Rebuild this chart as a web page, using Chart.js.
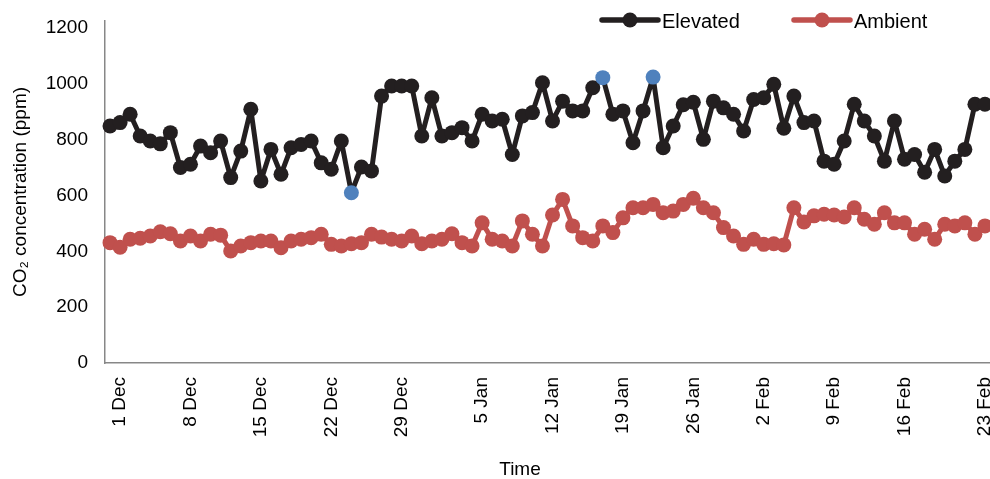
<!DOCTYPE html>
<html>
<head>
<meta charset="utf-8">
<script src="https://cdn.jsdelivr.net/npm/chart.js@4.4.1/dist/chart.umd.min.js"></script>
<style>
    html, body { margin: 0; padding: 0; background: #fff; }
    #wrap { width: 990px; height: 479px; }
</style>
</head>
<body>
<div id="wrap"><canvas id="chartCO2" width="990" height="479"></canvas></div>
<script>
// Etiquetas de fecha y el punto (índice) donde aparecen en el eje X
const dateLabels = ['1 Dec', '8 Dec', '15 Dec', '22 Dec', '29 Dec', '5 Jan', '12 Jan',
                    '19 Jan', '26 Jan', '2 Feb', '9 Feb', '16 Feb', '23 Feb'];
const dateIndex = [1, 8, 15, 22, 29, 37, 44, 51, 58, 65, 72, 79, 87];

// Concentración de CO2 (ppm)
const elevated = [849, 861, 891, 813, 795, 785, 825, 700, 712, 777, 753, 795, 664, 759, 909,
                  652, 765, 676, 771, 783, 795, 717, 694, 795, 610, 702, 688, 956, 992, 992,
                  992, 813, 950, 813, 825, 843, 795, 891, 867, 873, 747, 885, 897, 1004, 867,
                  938, 903, 903, 986, 1022, 891, 903, 789, 903, 1024, 771, 849, 925, 934, 801,
                  938, 914, 891, 831, 944, 950, 998, 841, 956, 861, 867, 723, 712, 795, 927,
                  867, 813, 723, 867, 730, 747, 683, 765, 670, 723, 765, 927, 927];
const ambient = [431, 415, 443, 447, 455, 470, 463, 437, 455, 437, 461, 458, 401, 419, 431,
                 437, 437, 413, 437, 443, 449, 461, 425, 419, 427, 431, 461, 451, 443, 437,
                 455, 427, 437, 443, 463, 431, 419, 502, 443, 437, 419, 509, 461, 419, 530,
                 586, 491, 449, 437, 491, 467, 520, 556, 556, 568, 538, 544, 568, 590, 556,
                 538, 485, 455, 425, 443, 425, 427, 423, 556, 505, 527, 533, 530, 523, 556,
                 515, 497, 538, 502, 502, 461, 479, 443, 497, 491, 502, 461, 491];

// Puntos resaltados en azul dentro de la serie "Elevated"
const highlightIndex = [24, 49, 54];

const yTicks = [0, 200, 400, 600, 800, 1000, 1200];

const COLOR_ELEV = '#231f20';
const COLOR_AMB = '#c0504d';
const COLOR_HL = '#4f81bd';
const FONT = '"Liberation Sans", Arial, "DejaVu Sans", sans-serif';

const categories = elevated.map((_, i) => {
    const k = dateIndex.indexOf(i);
    return k >= 0 ? dateLabels[k] : '';
});
const elevColors = elevated.map((_, i) => highlightIndex.includes(i) ? COLOR_HL : COLOR_ELEV);

// Leyenda y título "Time" dibujados a mano
const extrasPlugin = {
    id: 'extras',
    afterDraw(chart) {
        const ctx = chart.ctx;
        const items = [
            { x: 602, ds: chart.data.datasets[0] },
            { x: 794, ds: chart.data.datasets[1] }
        ];
        ctx.save();
        items.forEach(it => {
            const y = 20;
            ctx.strokeStyle = it.ds.borderColor;
            ctx.lineWidth = 5.5;
            ctx.lineCap = 'round';
            ctx.beginPath();
            ctx.moveTo(it.x, y);
            ctx.lineTo(it.x + 56, y);
            ctx.stroke();
            ctx.fillStyle = it.ds.borderColor;
            ctx.beginPath();
            ctx.arc(it.x + 28, y, 7.5, 0, Math.PI * 2);
            ctx.fill();
            ctx.fillStyle = '#000';
            ctx.font = '20px ' + FONT;
            ctx.textBaseline = 'middle';
            ctx.textAlign = 'left';
            ctx.fillText(it.ds.label, it.x + 60, y + 2);
        });
        ctx.font = '19px ' + FONT;
        ctx.textAlign = 'center';
        ctx.textBaseline = 'middle';
        ctx.fillStyle = '#000';
        ctx.fillText('Time', 520, 470);
        ctx.restore();
    }
};

const ctxCO2 = document.getElementById('chartCO2').getContext('2d');
const chartCO2 = new Chart(ctxCO2, {
    type: 'line',
    data: {
        labels: categories,
        datasets: [
            {
                label: 'Elevated',
                data: elevated,
                borderColor: COLOR_ELEV,
                backgroundColor: COLOR_ELEV,
                borderWidth: 5,
                borderJoinStyle: 'round',
                pointRadius: 7.5,
                pointBackgroundColor: elevColors,
                pointBorderColor: elevColors,
                pointBorderWidth: 0,
                tension: 0
            },
            {
                label: 'Ambient',
                data: ambient,
                borderColor: COLOR_AMB,
                backgroundColor: COLOR_AMB,
                borderWidth: 5,
                borderJoinStyle: 'round',
                pointRadius: 7.5,
                pointBackgroundColor: COLOR_AMB,
                pointBorderColor: COLOR_AMB,
                pointBorderWidth: 0,
                tension: 0
            }
        ]
    },
    options: {
        responsive: false,
        animation: false,
        devicePixelRatio: 1,
        layout: { autoPadding: false, padding: { top: 21, left: 0, right: 0, bottom: 0 } },
        plugins: {
            legend: { display: false },
            tooltip: { enabled: false }
        },
        scales: {
            x: {
                type: 'category',
                offset: true,
                grid: { display: false, drawTicks: false, offset: false },
                border: { display: true, color: '#878787', width: 1.5 },
                ticks: {
                    autoSkip: false,
                    minRotation: 90,
                    maxRotation: 90,
                    padding: 14,
                    color: '#000',
                    font: { family: FONT, size: 19 }
                },
                afterFit(scale) {
                    scale.height = 116;
                    scale.paddingLeft = 0;
                    scale.paddingRight = 0;
                }
            },
            y: {
                min: 0,
                max: 1225,
                grid: { display: false, drawTicks: false },
                border: { display: true, color: '#878787', width: 1.5 },
                ticks: {
                    padding: 17,
                    color: '#000',
                    font: { family: FONT, size: 19 },
                    callback: v => String(v)
                },
                afterBuildTicks(scale) {
                    scale.ticks = yTicks.map(v => ({ value: v }));
                },
                title: {
                    display: true,
                    text: 'CO₂ concentration (ppm)',
                    color: '#000',
                    font: { family: FONT, size: 19 },
                    padding: { top: 9, bottom: 0 }
                },
                afterFit(scale) {
                    scale.width = 105;
                    scale.paddingTop = 0;
                    scale.paddingBottom = 0;
                }
            }
        }
    },
    plugins: [extrasPlugin]
});
</script>
</body>
</html>
